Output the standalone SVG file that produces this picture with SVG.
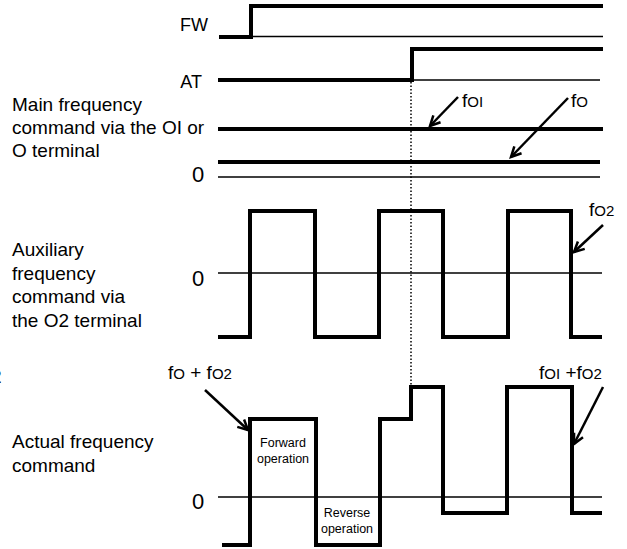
<svg xmlns="http://www.w3.org/2000/svg" width="627" height="549" viewBox="0 0 627 549">
<style>
text{font-family:"Liberation Sans",Arial,sans-serif;fill:#000}
.lbl{font-size:19px}
.sig{font-size:18px}
.zero{font-size:22px}
.small{font-size:12.5px}
.sub{font-size:15px}
.thick{fill:none;stroke:#000;stroke-width:4;stroke-linejoin:miter}
.thin{fill:none;stroke:#000;stroke-width:1.5}
.arr{fill:none;stroke:#000;stroke-width:2.5;marker-end:url(#ah)}
</style>
<defs>
<marker id="ah" markerUnits="userSpaceOnUse" markerWidth="14" markerHeight="14" refX="11" refY="6" orient="auto" viewBox="0 0 14 12">
<path d="M1,1 L11,6 L1,11" fill="none" stroke="#000" stroke-width="2.5"/>
</marker>
</defs>
<rect width="627" height="549" fill="#fff"/>

<g id="fw">
<text class="sig" x="208" y="31" text-anchor="end">FW</text>
<line class="thin" x1="251" y1="36.5" x2="603" y2="36.5"/>
<path class="thick" d="M219,37 H251 V6 H603"/>
</g>

<g id="at">
<text class="sig" x="202" y="88" text-anchor="end">AT</text>
<line class="thin" x1="412" y1="80" x2="600" y2="80"/>
<path class="thick" d="M218,80 H412 V49 H603"/>
</g>

<g id="main">
<text class="lbl" x="12" y="111">Main frequency</text>
<text class="lbl" x="12" y="134">command via the OI or</text>
<text class="lbl" x="12" y="157">O terminal</text>
<text class="zero" x="192" y="182">0</text>
<line class="thick" x1="218" y1="129" x2="603" y2="129"/>
<line class="thick" x1="218" y1="162" x2="600" y2="162"/>
<line class="thin" x1="218" y1="177" x2="600" y2="177"/>
<text class="lbl" x="462" y="107">f<tspan class="sub">OI</tspan></text>
<text class="lbl" x="571" y="107">f<tspan class="sub">O</tspan></text>
</g>

<g id="aux">
<text class="lbl" x="12" y="256">Auxiliary</text>
<text class="lbl" x="12" y="280">frequency</text>
<text class="lbl" x="12" y="303">command via</text>
<text class="lbl" x="12" y="327">the O2 terminal</text>
<text class="zero" x="192" y="286">0</text>
<line class="thin" x1="218" y1="273" x2="602" y2="273"/>
<path class="thick" d="M218,337 H250 V211 H315 V337 H379 V211 H443 V337 H508 V211 H571 V337 H602"/>
<text class="lbl" x="589" y="216">f<tspan class="sub">O2</tspan></text>
</g>

<g id="actual">
<text class="lbl" x="-9" y="383">2</text>
<text class="lbl" x="12" y="448">Actual frequency</text>
<text class="lbl" x="12" y="472">command</text>
<text class="zero" x="192" y="509">0</text>
<line class="thin" x1="218" y1="497" x2="602" y2="497"/>
<path class="thick" d="M222,545 H250 V419 H316 V545 H380 V419 H411 V387 H443 V513 H507 V387 H572 V513 H602"/>
<text class="small" x="283" y="447" text-anchor="middle">Forward</text>
<text class="small" x="283" y="463" text-anchor="middle">operation</text>
<text class="small" x="347" y="517" text-anchor="middle">Reverse</text>
<text class="small" x="347" y="533" text-anchor="middle">operation</text>
<text class="lbl" x="168" y="379">f<tspan class="sub">O</tspan> + f<tspan class="sub">O2</tspan></text>
<text class="lbl" x="539" y="379">f<tspan class="sub">OI</tspan> +f<tspan class="sub">O2</tspan></text>
</g>

<g id="connectors">
<line x1="411" y1="82" x2="411" y2="387" stroke="#000" stroke-width="1.5" stroke-dasharray="1.5,2"/>
<line class="arr" x1="458" y1="97" x2="430" y2="126"/>
<line class="arr" x1="568" y1="98" x2="511" y2="157"/>
<line class="arr" x1="603" y1="225" x2="574" y2="252"/>
<line class="arr" x1="205" y1="390" x2="248" y2="430"/>
<line class="arr" x1="603" y1="387" x2="574" y2="444"/>
</g>
</svg>
